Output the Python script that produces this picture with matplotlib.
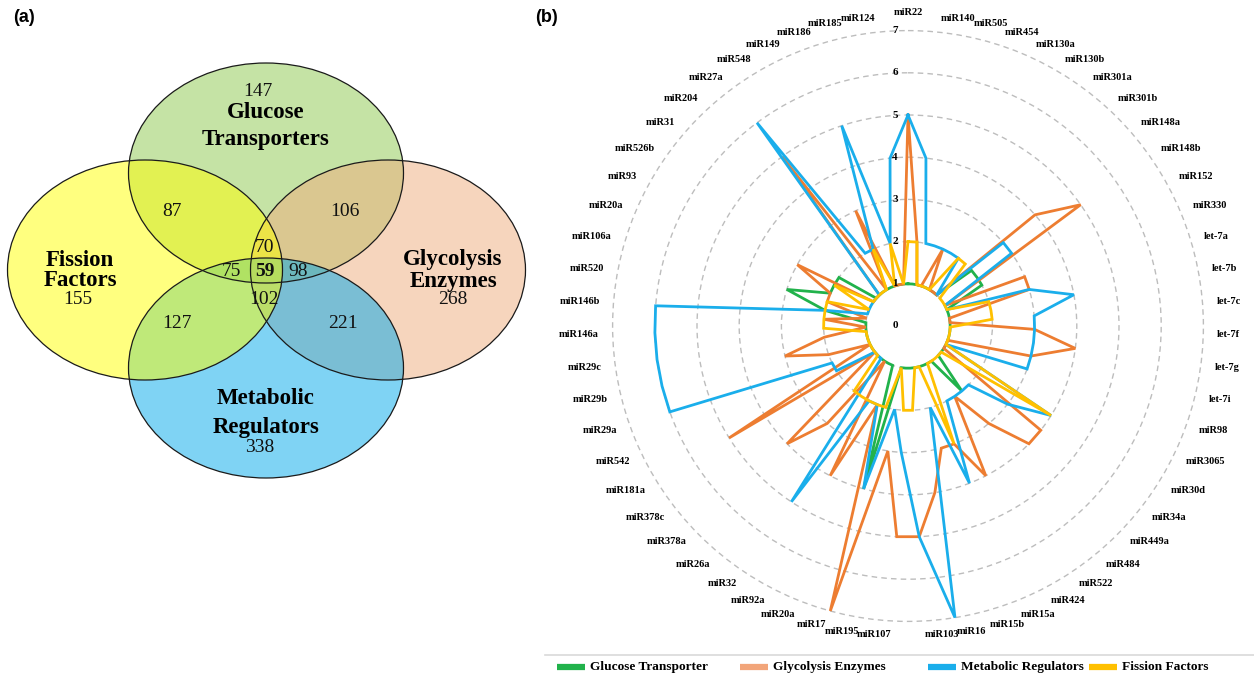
import numpy as np
import matplotlib

matplotlib.use("Agg")
import matplotlib.pyplot as plt
from matplotlib.patches import Ellipse
from matplotlib.lines import Line2D

# Venn counts
venn_counts = {
    "glut_only": 147, "ff_only": 155, "ge_only": 268, "mr_only": 338,
    "ff_glut": 87, "glut_ge": 106, "ff_glut_ge": 70, "ff_glut_mr": 75,
    "all": 59, "glut_ge_mr": 98, "ff_ge_mr": 102, "ff_mr": 127, "ge_mr": 221,
}

# radar categories (clockwise from top)
mirnas = ["miR22", "miR140", "miR505", "miR454", "miR130a", "miR130b", "miR301a", "miR301b",
          "miR148a", "miR148b", "miR152", "miR330", "let-7a", "let-7b", "let-7c", "let-7f",
          "let-7g", "let-7i", "miR98", "miR3065", "miR30d", "miR34a", "miR449a", "miR484",
          "miR522", "miR424", "miR15a", "miR15b", "miR16", "miR103", "miR107", "miR195",
          "miR17", "miR20a", "miR92a", "miR32", "miR26a", "miR378a", "miR378c", "miR181a",
          "miR542", "miR29a", "miR29b", "miR29c", "miR146a", "miR146b", "miR520", "miR106a",
          "miR20a", "miR93", "miR526b", "miR31", "miR204", "miR27a", "miR548", "miR149",
          "miR186", "miR185", "miR124"]

glucose = [1, 1, 1, 1, 1, 1, 1, 1, 2, 2,
           2, 1, 1, 1, 1, 1, 1, 1, 1, 1,
           1, 1, 1, 2, 1, 1, 1, 1, 1, 1,
           1, 1, 4, 1, 1, 1, 1, 1, 1, 1,
           1, 1, 1, 1, 1, 1, 2, 3, 2, 2,
           2, 1, 1, 1, 1, 1, 1, 1, 1]
glycolysis = [5, 2, 1, 1, 2, 1, 1, 1, 4, 5,
              1, 3, 3, 1, 1, 3, 4, 3, 1, 1,
              1, 4, 4, 3, 2, 4, 3, 3, 4, 5,
              5, 3, 7, 2, 4, 1, 3, 4, 1, 5,
              1, 2, 3, 2, 1, 2, 1, 2, 2, 3,
              1, 1, 1, 5, 1, 3, 1, 1, 1]
metabolic = [5, 4, 2, 2, 2, 2, 2, 1, 3, 3,
             1, 1, 3, 4, 3, 3, 3, 3, 3, 1,
             4, 3, 2, 2, 2, 2, 4, 2, 7, 5,
             3, 2, 4, 2, 2, 5, 1, 1, 1, 2,
             2, 6, 6, 6, 6, 6, 2, 1, 1, 1,
             1, 1, 1, 6, 2, 2, 5, 2, 4]
fission = [2, 2, 1, 1, 1, 1, 2, 2, 1, 1,
           1, 1, 2, 2, 2, 1, 1, 1, 1, 1,
           4, 1, 1, 1, 1, 1, 3, 1, 1, 2,
           2, 1, 2, 2, 2, 2, 2, 1, 1, 1,
           1, 1, 1, 1, 2, 2, 2, 2, 1, 2,
           1, 1, 1, 1, 1, 2, 1, 2, 1]

series_names = ["Glucose Transporter", "Glycolysis Enzymes", "Metabolic Regulators", "Fission Factors"]
series_colors = ["#21B24B", "#ED7D31", "#1AAEEB", "#FFC000"]
legend_colors = ["#21B24B", "#F2A57A", "#1AAEEB", "#FFC000"]
legend_x = [557, 740, 928, 1089]  # patch left edge, px

serif = "Liberation Serif"
W, H = 1254, 674
fig = plt.figure(figsize=(W / 100, H / 100), dpi=100)

# ---------------- (a) Venn ----------------
ax = fig.add_axes([0, 0, 540 / W, 1])
ax.set_xlim(0, 540)
ax.set_ylim(H, 0)
ax.axis("off")

ew, eh = 275, 220
ellipses = [((266, 173), "#8DC94D", 1),  # glucose transporters
            ((388, 270), "#EFAD7D", 2),  # glycolysis
            ((266, 368), "#00A9EB", 3),  # metabolic regulators
            ((145, 270), "#FFFF00", 4)]  # fission factors
for (ex, ey), col, z in ellipses:
    ax.add_patch(Ellipse((ex, ey), ew, eh, facecolor=col, alpha=0.5, edgecolor="none", zorder=z))
for (ex, ey), col, z in ellipses:
    ax.add_patch(Ellipse((ex, ey), ew, eh, facecolor="none", edgecolor="#1a1a1a", lw=0.9, zorder=6))

num_kw = dict(fontsize=14, family=serif, ha="center", va="center", zorder=7, color="#111111")
lab_kw = dict(fontsize=16.5, family=serif, fontweight="bold", ha="center", va="center", zorder=7)
ax.text(258, 91, venn_counts["glut_only"], **num_kw)
ax.text(266, 112, "Glucose", **lab_kw)
ax.text(266, 140, "Transporters", **lab_kw)
ax.text(80, 260, "Fission", **lab_kw)
ax.text(80, 281, "Factors", **lab_kw)
ax.text(78, 300, venn_counts["ff_only"], **num_kw)
ax.text(453, 260, "Glycolysis", **lab_kw)
ax.text(453, 281, "Enzymes", **lab_kw)
ax.text(453, 300, venn_counts["ge_only"], **num_kw)
ax.text(266, 399, "Metabolic", **lab_kw)
ax.text(266, 428, "Regulators", **lab_kw)
ax.text(260, 447, venn_counts["mr_only"], **num_kw)
ax.text(172, 211, venn_counts["ff_glut"], **num_kw)
ax.text(345, 211, venn_counts["glut_ge"], **num_kw)
ax.text(264, 247, venn_counts["ff_glut_ge"], **num_kw)
ax.text(231, 272, venn_counts["ff_glut_mr"], **num_kw)
ax.text(265, 272, venn_counts["all"], fontweight="bold", **num_kw)
ax.text(298, 272, venn_counts["glut_ge_mr"], **num_kw)
ax.text(264, 300, venn_counts["ff_ge_mr"], **num_kw)
ax.text(177, 324, venn_counts["ff_mr"], **num_kw)
ax.text(343, 324, venn_counts["ge_mr"], **num_kw)

fig.text(24 / W, 1 - 17 / H, "(a)", fontsize=13, fontweight="bold", family="Liberation Sans",
         ha="center", va="center")
fig.text(546 / W, 1 - 17 / H, "(b)", fontsize=13, fontweight="bold", family="Liberation Sans",
         ha="center", va="center")

# ---------------- (b) radar ----------------
cx, cy, unit = 908, 326, 42.2
rmax = 7.05
rpx = unit * rmax
rax = fig.add_axes([(cx - rpx) / W, (H - cy - rpx) / H, 2 * rpx / W, 2 * rpx / H],
                   projection="polar")
rax.set_theta_zero_location("N")
rax.set_theta_direction(-1)
rax.set_ylim(0, rmax)
rax.spines["polar"].set_visible(False)
rax.set_xticks([])
rax.set_yticks(range(1, 8))
rax.set_yticklabels([])
rax.yaxis.grid(True, color="#BDBDBD", linestyle=(0, (4, 3)), lw=1.0)
rax.xaxis.grid(False)
rax.patch.set_alpha(0)

n = len(mirnas)
theta = np.arange(n) * 2 * np.pi / n
theta_closed = np.append(theta, theta[0])
for vals, col in zip([glucose, glycolysis, metabolic, fission], series_colors):
    v = np.append(vals, vals[0])
    rax.plot(theta_closed, v, color=col, lw=2.0, solid_joinstyle="miter", clip_on=False)

for k in range(0, 8):
    rax.annotate(str(k), xy=(0, k), xytext=(-9.4, 0), textcoords="offset points",
                 ha="center", va="center", fontsize=8, family=serif, fontweight="bold")

for t, lab in zip(theta, mirnas):
    s = np.sin(t)
    if abs(s) < 0.03:
        ha, r_lab = "center", 7.44
    else:
        ha, r_lab = ("left" if s > 0 else "right"), 7.33
    rax.text(t, r_lab, lab, ha=ha, va="center", fontsize=7.5, family=serif, fontweight="bold")

# legend strip
fig.add_artist(Line2D([545 / W, 1], [1 - 655 / H] * 2, color="#D9D9D9", lw=1.2))
ly = 1 - 667 / H
for x0, col, name in zip(legend_x, legend_colors, series_names):
    fig.add_artist(Line2D([x0 / W, (x0 + 28) / W], [ly, ly], color=col, lw=4.5,
                          solid_capstyle="butt"))
    fig.text((x0 + 33) / W, ly, name, family=serif, fontweight="bold", fontsize=9.6,
             ha="left", va="center")

fig.savefig("out.png", dpi=100)
